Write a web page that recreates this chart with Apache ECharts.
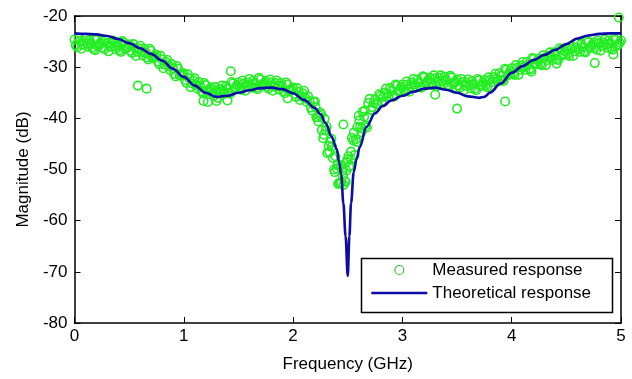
<!DOCTYPE html>
<html>
<head>
<meta charset="utf-8">
<script src="https://cdn.jsdelivr.net/npm/echarts/dist/echarts.min.js"></script>
<style>html,body{margin:0;padding:0;background:#fff;}#c{width:632px;height:379px;}</style>
</head>
<body>
<div id="c"></div>
<script>
// Measured response, sweep A (GHz, dB)
const measuredFreqA = [
0.000,0.025,0.050,0.075,0.100,0.125,0.150,0.175,0.200,0.225,0.250,0.275,0.300,0.325,0.350,0.375,0.400,0.425,0.450,0.475,
0.500,0.525,0.550,0.575,0.600,0.625,0.650,0.675,0.700,0.725,0.750,0.775,0.800,0.825,0.850,0.875,0.900,0.925,0.950,0.975,
1.000,1.025,1.050,1.075,1.100,1.125,1.150,1.175,1.200,1.225,1.250,1.275,1.300,1.325,1.350,1.375,1.400,1.425,1.450,1.475,
1.500,1.525,1.550,1.575,1.600,1.625,1.650,1.675,1.700,1.725,1.750,1.775,1.800,1.825,1.850,1.875,1.900,1.925,1.950,1.975,
2.000,2.025,2.050,2.075,2.100,2.125,2.150,2.175,2.200,2.225,2.250,2.275,2.300,2.325,2.350,2.375,2.400,2.425,2.450,2.475,
2.500,2.525,2.550,2.575,2.600,2.625,2.650,2.675,2.700,2.725,2.750,2.775,2.800,2.825,2.850,2.875,2.900,2.925,2.950,2.975,
3.000,3.025,3.050,3.075,3.100,3.125,3.150,3.175,3.200,3.225,3.250,3.275,3.300,3.325,3.350,3.375,3.400,3.425,3.450,3.475,
3.500,3.525,3.550,3.575,3.600,3.625,3.650,3.675,3.700,3.725,3.750,3.775,3.800,3.825,3.850,3.875,3.900,3.925,3.950,3.975,
4.000,4.025,4.050,4.075,4.100,4.125,4.150,4.175,4.200,4.225,4.250,4.275,4.300,4.325,4.350,4.375,4.400,4.425,4.450,4.475,
4.500,4.525,4.550,4.575,4.600,4.625,4.650,4.675,4.700,4.725,4.750,4.775,4.800,4.825,4.850,4.875,4.900,4.925,4.950,4.975,
5.000
];
const measuredMagA = [
-24.6,-26.1,-24.9,-25.6,-24.3,-26.0,-25.3,-26.5,-24.7,-25.7,-24.9,-26.5,-25.3,-26.0,-24.8,-26.5,-25.8,-27.0,-25.2,-26.3,
-25.6,-27.2,-26.2,-27.0,-25.8,-27.7,-27.1,-28.5,-26.8,-28.1,-27.6,-29.4,-28.5,-29.5,-28.6,-30.6,-30.2,-31.8,-30.3,-31.6,
-31.2,-33.1,-32.2,-33.2,-32.2,-34.2,-33.7,-35.1,-33.5,-34.6,-34.0,-35.6,-34.5,-35.0,-33.6,-35.2,-34.2,-35.2,-33.2,-34.0,
-33.0,-34.4,-33.2,-33.7,-32.3,-34.0,-33.2,-34.3,-32.4,-33.4,-32.7,-34.2,-33.0,-33.8,-32.6,-34.4,-33.7,-35.1,-33.4,-34.6,
-34.0,-35.8,-34.8,-35.7,-34.6,-36.8,-36.6,-38.5,-36.7,-39.8,-38.9,-43.9,-42.3,-45.4,-44.0,-50.0,-49.8,-52.6,-50.3,-52.3,
-48.0,-49.3,-44.3,-44.1,-39.5,-42.7,-39.7,-41.8,-36.2,-37.8,-36.3,-37.3,-35.6,-35.8,-34.2,-35.7,-34.6,-35.7,-33.6,-34.4,
-33.4,-34.7,-33.4,-33.8,-32.3,-33.9,-33.0,-34.0,-32.0,-32.9,-32.1,-33.5,-32.2,-32.8,-31.6,-33.3,-32.5,-33.8,-32.0,-33.1,
-32.4,-34.0,-32.9,-33.6,-32.4,-34.1,-33.3,-34.5,-32.6,-33.5,-32.5,-33.9,-32.5,-32.9,-31.3,-32.8,-31.7,-32.7,-30.5,-31.3,
-30.2,-31.5,-30.1,-30.5,-29.0,-30.5,-29.5,-30.5,-28.4,-29.2,-28.3,-29.6,-28.2,-28.6,-27.1,-28.6,-27.6,-28.6,-26.6,-27.4,
-26.4,-27.8,-26.4,-26.9,-25.4,-27.0,-26.1,-27.1,-25.1,-26.0,-25.2,-26.6,-25.3,-25.9,-24.6,-26.2,-25.4,-26.6,-24.7,-25.6,
-24.8
];
// Measured response, sweep B (interleaved frequencies)
const measuredFreqB = [
0.0125,0.0375,0.0625,0.0875,0.1125,0.1375,0.1625,0.1875,0.2125,0.2375,0.2625,0.2875,0.3125,0.3375,0.3625,0.3875,0.4125,0.4375,0.4625,0.4875,
0.5125,0.5375,0.5625,0.5875,0.6125,0.6375,0.6625,0.6875,0.7125,0.7375,0.7625,0.7875,0.8125,0.8375,0.8625,0.8875,0.9125,0.9375,0.9625,0.9875,
1.0125,1.0375,1.0625,1.0875,1.1125,1.1375,1.1625,1.1875,1.2125,1.2375,1.2625,1.2875,1.3125,1.3375,1.3625,1.3875,1.4125,1.4375,1.4625,1.4875,
1.5125,1.5375,1.5625,1.5875,1.6125,1.6375,1.6625,1.6875,1.7125,1.7375,1.7625,1.7875,1.8125,1.8375,1.8625,1.8875,1.9125,1.9375,1.9625,1.9875,
2.0125,2.0375,2.0625,2.0875,2.1125,2.1375,2.1625,2.1875,2.2125,2.2375,2.2625,2.2875,2.3125,2.3375,2.3625,2.3875,2.4125,2.4375,2.4625,2.4875,
2.5125,2.5375,2.5625,2.5875,2.6125,2.6375,2.6625,2.6875,2.7125,2.7375,2.7625,2.7875,2.8125,2.8375,2.8625,2.8875,2.9125,2.9375,2.9625,2.9875,
3.0125,3.0375,3.0625,3.0875,3.1125,3.1375,3.1625,3.1875,3.2125,3.2375,3.2625,3.2875,3.3125,3.3375,3.3625,3.3875,3.4125,3.4375,3.4625,3.4875,
3.5125,3.5375,3.5625,3.5875,3.6125,3.6375,3.6625,3.6875,3.7125,3.7375,3.7625,3.7875,3.8125,3.8375,3.8625,3.8875,3.9125,3.9375,3.9625,3.9875,
4.0125,4.0375,4.0625,4.0875,4.1125,4.1375,4.1625,4.1875,4.2125,4.2375,4.2625,4.2875,4.3125,4.3375,4.3625,4.3875,4.4125,4.4375,4.4625,4.4875,
4.5125,4.5375,4.5625,4.5875,4.6125,4.6375,4.6625,4.6875,4.7125,4.7375,4.7625,4.7875,4.8125,4.8375,4.8625,4.8875,4.9125,4.9375,4.9625,4.9875
];
const measuredMagB = [
-25.7,-24.3,-26.4,-24.9,-25.4,-24.7,-26.2,-24.4,-25.9,-25.3,-26.1,-24.7,-26.9,-25.3,-25.9,-25.2,-26.7,-24.9,-26.5,-26.0,
-26.8,-25.5,-27.8,-26.3,-27.0,-26.4,-28.1,-26.4,-28.2,-27.9,-28.9,-27.8,-30.2,-29.0,-29.8,-29.4,-31.3,-29.8,-31.6,-31.4,
-32.5,-31.4,-33.9,-32.6,-33.5,-32.9,-34.7,-33.1,-34.8,-34.3,-35.1,-33.9,-36.0,-34.3,-34.6,-33.7,-35.0,-32.9,-34.3,-33.5,
-34.1,-32.6,-34.6,-33.0,-33.4,-32.6,-34.0,-32.1,-33.6,-33.0,-33.8,-32.4,-34.6,-33.1,-33.7,-33.1,-34.7,-33.0,-34.7,-34.3,
-35.2,-34.1,-36.4,-35.1,-36.0,-35.7,-37.9,-36.8,-39.8,-39.4,-42.3,-40.1,-46.8,-44.6,-47.7,-47.4,-52.8,-49.2,-53.0,-50.2,
-49.5,-43.8,-47.2,-41.7,-41.7,-38.7,-41.5,-37.0,-38.3,-37.0,-37.2,-35.3,-36.9,-35.0,-35.2,-34.1,-35.5,-33.4,-34.7,-33.9,
-34.4,-32.8,-34.8,-33.0,-33.4,-32.4,-33.8,-31.8,-33.2,-32.5,-33.1,-31.6,-33.7,-32.1,-32.7,-31.9,-33.5,-31.7,-33.3,-32.8,
-33.6,-32.3,-34.5,-33.0,-33.5,-32.7,-34.2,-32.3,-33.7,-33.0,-33.5,-32.0,-33.9,-32.0,-32.3,-31.2,-32.5,-30.3,-31.6,-30.7,
-31.2,-29.6,-31.5,-29.7,-30.0,-29.0,-30.3,-28.2,-29.5,-28.7,-29.3,-27.7,-29.6,-27.8,-28.1,-27.1,-28.4,-26.3,-27.7,-26.9,
-27.4,-25.9,-27.8,-26.1,-26.5,-25.5,-26.9,-24.9,-26.3,-25.6,-26.2,-24.8,-26.8,-25.2,-25.6,-24.8,-26.3,-24.4,-25.8,-25.2
];
// Measured response, extra readings across the notch
const measuredFreqC = [2.20625,2.23125,2.25625,2.28125,2.30625,2.33125,2.35625,2.38125,2.40625,2.43125,2.45625,2.48125,2.50625,2.53125,2.55625,2.58125,2.60625,2.63125,2.65625,2.68125];
const measuredMagC = [-37.8,-40.6,-39.2,-43.2,-41.6,-46.6,-45.5,-50.5,-49.2,-52.7,-51.2,-52.4,-47.4,-48.0,-42.8,-44.6,-40.4,-42.0,-38.5,-39.8];
// Measured response, isolated outlying readings
const outlierFreq = [0.19,0.58,0.66,1.18,1.22,1.30,1.40,1.43,1.95,2.46,3.30,3.50,3.94,4.18,4.41,4.76,4.93,4.98,2.44,2.49,2.41,2.53];
const outlierMag = [-26.7,-33.6,-34.2,-36.6,-36.8,-36.6,-36.5,-30.8,-36.1,-41.2,-35.4,-38.1,-36.7,-30.9,-29.3,-29.2,-27.5,-20.3,-52.6,-48.5,-49.0,-46.5];
// Theoretical response (GHz, dB)
const theoFreq = [0,0.1,0.2,0.3,0.4,0.5,0.6,0.7,0.8,0.9,1.0,1.1,1.2,1.3,1.4,1.5,1.6,1.7,1.8,1.9,2.0,2.1,2.2,2.25,2.3,2.35,2.4,2.42,2.44,2.46,2.48,2.50,2.515,2.53,2.555,2.58,2.61,2.67,2.75,2.82,2.9,3.0,3.1,3.2,3.3,3.4,3.5,3.6,3.7,3.75,3.8,3.9,4.0,4.1,4.2,4.3,4.4,4.5,4.6,4.7,4.8,4.9,5.0];
const theoMag = [-23.4,-23.5,-23.6,-23.9,-24.5,-25.3,-26.3,-27.4,-28.7,-30.3,-31.9,-33.6,-35.0,-35.8,-35.6,-35.0,-34.5,-34.1,-34.0,-34.3,-35.1,-36.4,-38.0,-39.2,-41.0,-43.5,-46.0,-48.5,-51.0,-56.6,-63.0,-70.8,-63.0,-56.6,-50.5,-48.0,-45.6,-41.7,-39.0,-37.6,-36.5,-35.6,-34.8,-34.2,-34.0,-34.4,-35.0,-35.7,-36.0,-35.8,-35.0,-33.2,-31.1,-29.8,-28.6,-27.6,-26.6,-25.5,-24.4,-23.8,-23.5,-23.4,-23.4];
const xTicks = {min: 0, max: 5, step: 1};
const yTicks = {min: -80, max: -20, step: 10};
const seriesNames = ['Measured response', 'Theoretical response'];

const FONT = "'Liberation Sans', Arial, sans-serif";
const GREEN = '#22ee22';
const BLUE = '#0c0ca8';
const axisLineStyle = {color: '#000', width: 1.5};
const chart = echarts.init(document.getElementById('c'), null, {renderer: 'canvas'});
const measuredData = []
  .concat(measuredFreqA.map((f, i) => [f, measuredMagA[i]]))
  .concat(measuredFreqB.map((f, i) => [f, measuredMagB[i]]))
  .concat(measuredFreqC.map((f, i) => [f, measuredMagC[i]]))
  .concat(outlierFreq.map((f, i) => [f, outlierMag[i]]));
const theoData = theoFreq.map((f, i) => [f, theoMag[i]]);

function xAx(pos, labels) {
  return {
    type: 'value', position: pos, min: xTicks.min, max: xTicks.max, interval: xTicks.step,
    axisLine: {show: true, onZero: false, lineStyle: axisLineStyle},
    axisTick: {show: true, inside: true, length: 6, lineStyle: {color: '#000', width: 1}},
    axisLabel: {show: labels, color: '#000', fontSize: 17, fontFamily: FONT, margin: 5},
    splitLine: {show: false},
    name: labels ? 'Frequency (GHz)' : '', nameLocation: 'middle', nameGap: 33,
    nameTextStyle: {color: '#000', fontSize: 17, fontFamily: FONT}
  };
}
function yAx(pos, labels) {
  return {
    type: 'value', position: pos, min: yTicks.min, max: yTicks.max, interval: yTicks.step,
    axisLine: {show: true, onZero: false, lineStyle: axisLineStyle},
    axisTick: {show: true, inside: true, length: 6, lineStyle: {color: '#000', width: 1}},
    axisLabel: {show: labels, color: '#000', fontSize: 17, fontFamily: FONT, margin: 7},
    splitLine: {show: false},
    name: labels ? 'Magnitude (dB)' : '', nameLocation: 'middle', nameGap: 42,
    nameTextStyle: {color: '#000', fontSize: 17, fontFamily: FONT}
  };
}

chart.setOption({
  animation: false,
  backgroundColor: '#fff',
  grid: {left: 74.5, right: 11, top: 16, bottom: 56, containLabel: false},
  xAxis: [xAx('bottom', true), xAx('top', false)],
  yAxis: [yAx('left', true), yAx('right', false)],
  legend: {
    left: 370, top: 260, orient: 'vertical', padding: 0, itemGap: 3,
    itemWidth: 56, itemHeight: 9,
    textStyle: {color: '#000', fontSize: 17, fontFamily: FONT, lineHeight: 20},
    data: [
      {name: seriesNames[0], icon: 'circle', itemStyle: {color: 'rgba(0,0,0,0)', borderColor: '#3bbf3b', borderWidth: 1.2}},
      {name: seriesNames[1], itemStyle: {color: 'rgba(0,0,0,0)', borderWidth: 0, borderColor: 'rgba(0,0,0,0)'}, lineStyle: {color: BLUE, width: 2.6}}
    ]
  },
  graphic: [{
    type: 'rect', left: 359, top: 256, z: 100, silent: true,
    shape: {width: 251, height: 54},
    style: {fill: 'none', stroke: '#000', lineWidth: 1.5}
  }],
  series: [
    {
      name: seriesNames[0], type: 'scatter', xAxisIndex: 0, yAxisIndex: 0,
      data: measuredData, symbol: 'circle', symbolSize: 8.5,
      itemStyle: {color: 'rgba(0,0,0,0)', borderColor: GREEN, borderWidth: 1.6, opacity: 1},
      emphasis: {disabled: true},
      large: false,
      z: 2
    },
    {
      name: seriesNames[1], type: 'line', xAxisIndex: 0, yAxisIndex: 0,
      data: theoData, showSymbol: false, symbol: 'none',
      smooth: 0.35, smoothMonotone: 'x',
      lineStyle: {color: BLUE, width: 2.6},
      itemStyle: {color: BLUE},
      z: 3
    }
  ]
});
</script>
</body>
</html>
